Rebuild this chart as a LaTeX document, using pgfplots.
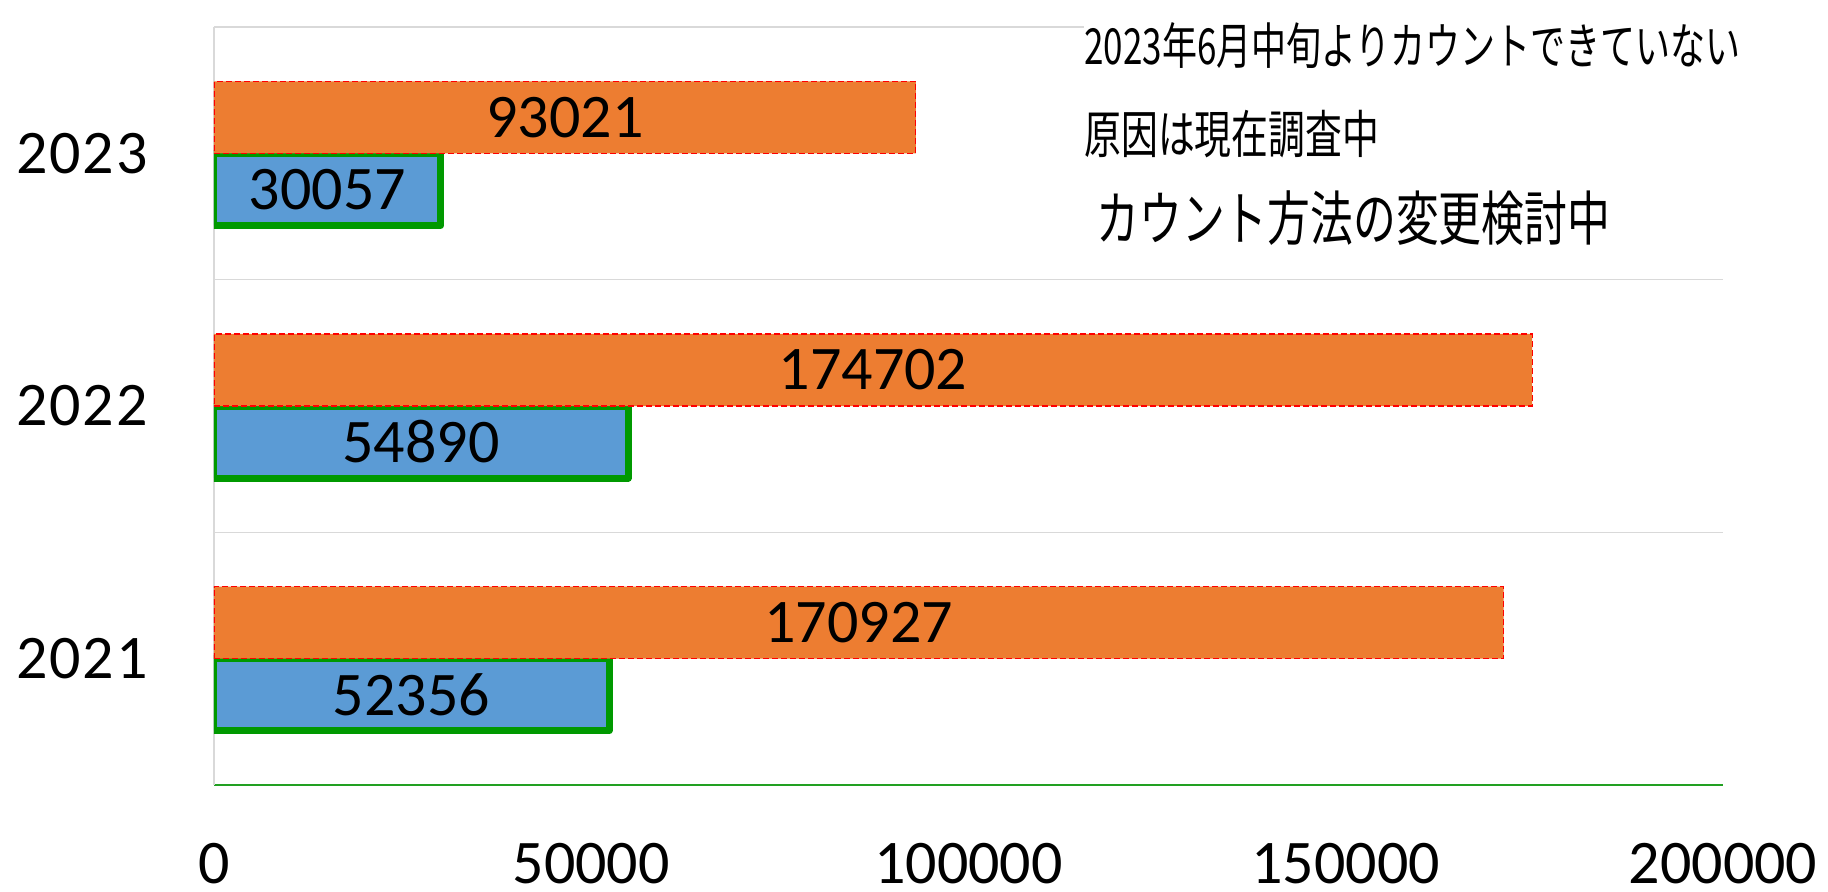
\documentclass[border=0pt]{standalone}
\usepackage{fontspec}
\setmainfont{Carlito}
\newfontfamily\cjk{Noto Sans CJK JP}
\newfontfamily\ytickfont[LetterSpace=3]{Carlito}
\usepackage{graphicx}
\usepackage{pgfplots}
\pgfplotsset{compat=1.18}
\definecolor{barblue}{HTML}{5B9BD5}
\definecolor{barorange}{HTML}{ED7D31}
\definecolor{bargreen}{HTML}{009900}
\definecolor{axisgreen}{HTML}{22A022}
\definecolor{gridgray}{HTML}{D9D9D9}
\begin{document}
\begin{tikzpicture}
\useasboundingbox (0,0) rectangle (914pt,445.5pt);
\begin{axis}[
  at={(107pt,53pt)}, anchor=south west,
  scale only axis, width=754.5pt, height=379pt,
  xbar, xmin=0, xmax=200000, ymin=-0.5, ymax=2.5,
  ytick={0,1,2}, yticklabels={2021,2022,2023},
  xtick={0,50000,100000,150000,200000},
  scaled x ticks=false,
  /pgf/number format/fixed,
  /pgf/number format/precision=0,
  /pgf/number format/1000 sep={},
  /pgf/number format/assume math mode=true,
  axis x line*=bottom, axis y line*=left,
  x axis line style={color=axisgreen, line width=1pt, -},
  y axis line style={color=gridgray, line width=0.7pt, -},
  major tick length=0pt,
  extra y ticks={0.5,1.5,2.5}, extra y tick labels={},
  extra y tick style={ymajorgrids=true, major grid style={color=gridgray, line width=0.8pt}},
  bar width=0.285,
  xticklabel style={font=\fontsize{31}{31}\selectfont, anchor=north, inner sep=0pt, yshift=-29pt},
  yticklabel style={font=\ytickfont\fontsize{31}{31}\selectfont, anchor=east, inner sep=0pt, xshift=-33pt},
  visualization depends on={x \as \rawx},
  point meta=x,
  nodes near coords={\pgfmathprintnumber[fixed,precision=0,1000 sep={},assume math mode=true]{\pgfplotspointmeta}},
  every node near coord/.append style={font=\fontsize{31}{31}\selectfont, text=black, anchor=center, shift={(axis direction cs:-\rawx/2,0)}},
]
\addplot[fill=barblue, draw=bargreen, line width=3.5pt, line join=round, bar shift=-0.1425]
  coordinates {(52356,0) (54890,1) (30057,2)};
\addplot[fill=barorange, draw=red, line width=0.6pt, dash pattern=on 3pt off 1.5pt, bar shift=0.1425]
  coordinates {(170927,0) (174702,1) (93021,2)};
\end{axis}
\fill[white] (542pt,438pt) rectangle (885pt,318pt);
\node[anchor=west, inner sep=0pt] at (542pt,422.5pt) {\scalebox{1}[1.42]{\cjk\fontsize{17.5}{17.5}\selectfont 2023年6月中旬よりカウントできていない}};
\node[anchor=west, inner sep=0pt] at (542pt,378.5pt) {\scalebox{1}[1.4]{\cjk\fontsize{18.4}{18.4}\selectfont 原因は現在調査中}};
\node[anchor=west, inner sep=0pt] at (548pt,336.5pt) {\scalebox{1}[1.38]{\cjk\fontsize{21.4}{21.4}\selectfont カウント方法の変更検討中}};
\end{tikzpicture}
\end{document}
